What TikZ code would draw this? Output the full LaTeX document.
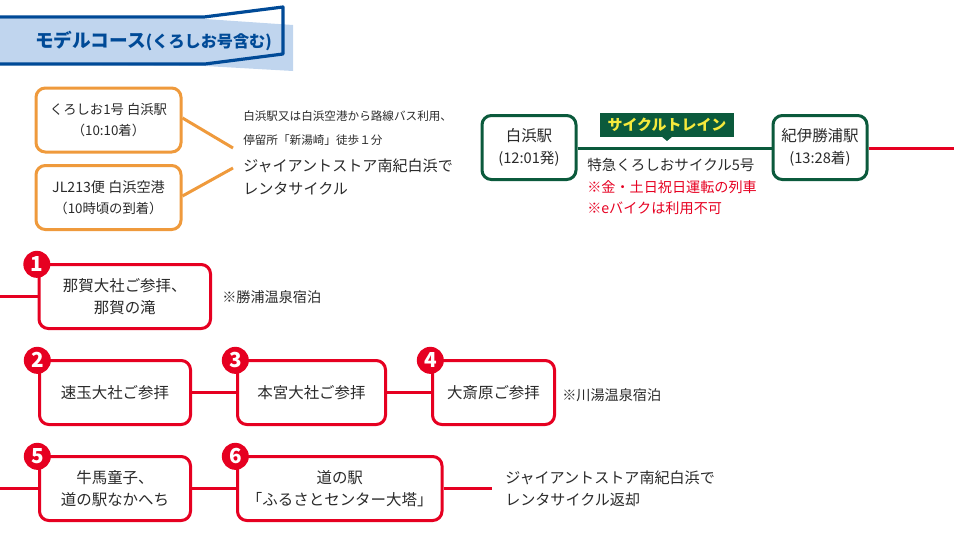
\documentclass[tikz,border=0pt]{standalone}
\usepackage{fontspec}
\setmainfont{Noto Sans CJK JP}
\definecolor{routered}{HTML}{E60021}
\definecolor{routegreen}{HTML}{0B5A3C}
\definecolor{routeorange}{HTML}{EF9A3C}
\definecolor{headblue}{HTML}{004A97}
\definecolor{headlight}{HTML}{C0D5EE}
\definecolor{inktext}{HTML}{2A2A2A}
\definecolor{tagyellow}{HTML}{F5E93C}
\tikzset{
  px size/.style 2 args={minimum width=#1*0.75pt, minimum height=#2*0.75pt},
  stopbox/.style={draw, rounded corners=7pt, line width=2.25pt, inner sep=0pt,
    align=center, text=inktext, fill=white, font=\fontsize{11.6}{16.5}\selectfont},
  redbox/.style={stopbox, draw=routered},
  greenbox/.style={stopbox, draw=routegreen},
  orangebox/.style={stopbox, draw=routeorange, font=\fontsize{10}{15.5}\selectfont},
  redline/.style={draw=routered, line width=2.25pt},
  orangeline/.style={draw=routeorange, line width=2.25pt},
  greenline/.style={draw=routegreen, line width=2.25pt},
  numdot/.style={circle, fill=routered, minimum size=20.25pt, inner sep=0pt,
    text=white, font=\fontsize{15.5}{16}\bfseries},
  note/.style={anchor=west, inner sep=0pt, align=left, text=inktext,
    font=\fontsize{10.6}{16.5}\selectfont},
  smallnote/.style={note, font=\fontsize{8.7}{18}\selectfont},
  rednote/.style={note, text=routered},
}
\begin{document}
\begin{tikzpicture}[x=0.75pt, y=-0.75pt]
  \useasboundingbox (0,0) rectangle (954,550);
  % heading band
  \fill[headlight] (0,19)--(205,19)--(293,25)--(293,71)--(205,66)--(0,64)--cycle;
  \draw[headblue, line width=2.4pt, line join=round] (0,17)--(204,17)--(283,7)--(283,54)--(205,64)--(0,64);
  \node(head)[anchor=west, inner sep=0pt, text=headblue, font=\fontsize{14}{14}\bfseries] at(35,41)
    {モデルコース{\fontsize{12.1}{14}\selectfont(くろしお号含む)}};
  % access to the first station
  \node(arrive1)[orangebox, px size={145}{64}] at(108.5,120) {くろしお1号 白浜駅\\（10:10着）};
  \node(arrive2)[orangebox, px size={145}{64}] at(108.5,197.5) {{\fontsize{10.6}{15.5}\selectfont JL213便 白浜空港}\\（10時頃の到着）};
  \coordinate(join1) at(233,148);
  \coordinate(join2) at(233,168);
  \draw[orangeline] (arrive1.east|-0,118)--(join1);
  \draw[orangeline] (arrive2.east|-0,196)--(join2);
  \node(bus)[smallnote] at(243,128) {白浜駅又は白浜空港から路線バス利用、\\停留所「新湯崎」徒歩１分};
  \node(rent)[note, font=\fontsize{11.3}{17.5}\selectfont] at(243,177) {ジャイアントストア南紀白浜で\\レンタサイクル};
  % cycle train
  \node(shirahama)[greenbox, px size={94}{64}] at(529,147.5) {白浜駅\\{\fontsize{11}{15}\selectfont (12:01発)}};
  \node(kii)[greenbox, px size={94}{64}] at(820,147.5) {紀伊勝浦駅\\{\fontsize{11}{15}\selectfont (13:28着)}};
  \coordinate(east) at(954,148);
  \draw[greenline] (shirahama.east|-east)--(kii.west|-east);
  \draw[redline] (kii.east|-east)--(east);
  \fill[routegreen] (661,136)--(673,136)--(667,141)--cycle;
  \node(tag)[fill=routegreen, text=tagyellow, px size={134}{24}, inner sep=0pt,
    font=\fontsize{11.2}{12}\bfseries] at(667,125) {サイクルトレイン};
  \node(train)[note, font=\fontsize{10.9}{12}\selectfont] at(587,165) {特急くろしおサイクル5号};
  \node(warn1)[rednote] at(587,187) {※金・土日祝日運転の列車};
  \node(warn2)[rednote] at(587,208) {※eバイクは利用不可};
  % numbered stops
  \foreach \n/\x/\y/\w/\t in {1/124.75/296.5/171.5/{那賀大社ご参拝、\\那賀の滝},
      2/115/392.5/151/{速玉大社ご参拝},
      3/311.5/392.5/148/{本宮大社ご参拝},
      4/493.5/392.5/122/{大斎原ご参拝},
      5/115/488.5/151/{牛馬童子、\\道の駅なかへち},
      6/339.75/488.5/204.5/{道の駅\\「ふるさとセンター大塔」}}{%
    \node(S\n)[redbox, px size={\w}{64}] at(\x,\y) {\t};
  }
  \foreach \n in {1,2,3,4,5,6}{%
    \node(N\n)[numdot, yshift=-1pt, xshift=-0.5pt] at(S\n.north west) {\n};
  }
  \coordinate(west1) at(0,296.5);
  \coordinate(west5) at(0,488.5);
  \coordinate(end) at(492,488.5);
  \draw[redline] (west1)--(S1) (west5)--(S5);
  \draw[redline] (S2)--(S3) (S3)--(S4) (S5)--(S6) (S6)--(end);
  \node(stay1)[note] at(222,297) {※勝浦温泉宿泊};
  \node(stay2)[note] at(562,395) {※川湯温泉宿泊};
  \node(back)[note, font=\fontsize{11.3}{16.5}\selectfont] at(505,489) {ジャイアントストア南紀白浜で\\レンタサイクル返却};
\end{tikzpicture}
\end{document}
